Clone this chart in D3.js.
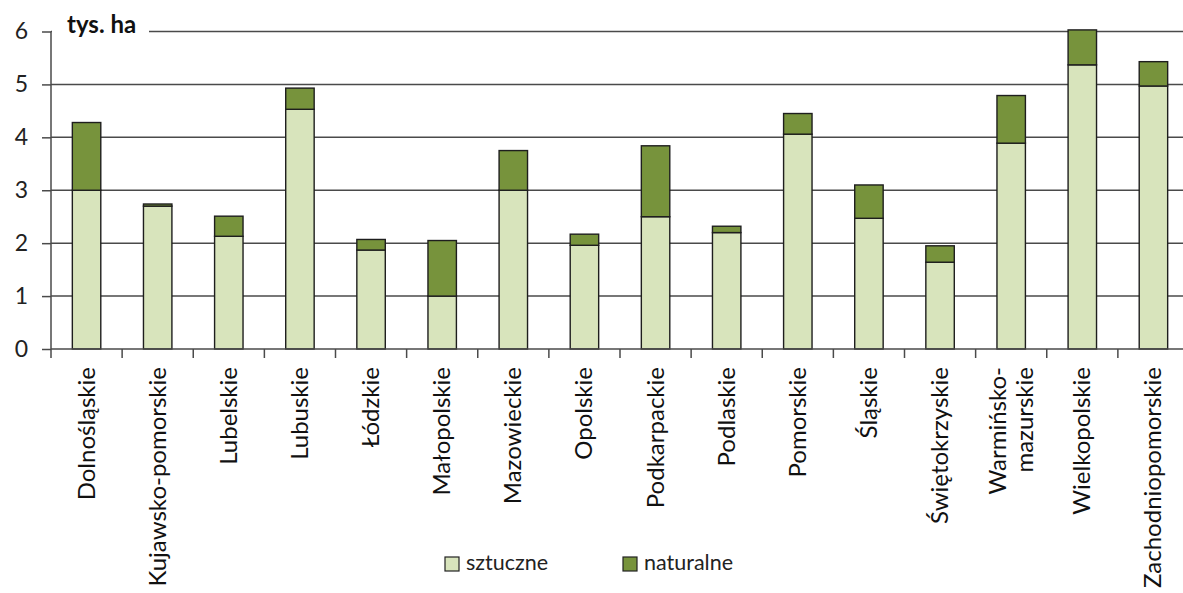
<!DOCTYPE html>
<html><head><meta charset="utf-8">
<script src="https://cdn.jsdelivr.net/npm/d3@7"></script>
<style>body{margin:0;background:#fff}svg{display:block}</style>
</head><body>
<svg id="c" width="1183" height="593"></svg>
<script>
const categories = ["Dolnośląskie","Kujawsko-pomorskie","Lubelskie","Lubuskie","Łódzkie","Małopolskie","Mazowieckie","Opolskie","Podkarpackie","Podlaskie","Pomorskie","Śląskie","Świętokrzyskie","Warmińsko-mazurskie","Wielkopolskie","Zachodniopomorskie"];
const sztuczne = [3.00,2.70,2.13,4.53,1.87,1.00,3.00,1.96,2.50,2.20,4.06,2.47,1.64,3.89,5.37,4.97];
const naturalne = [1.28,0.04,0.38,0.40,0.20,1.05,0.75,0.21,1.34,0.12,0.39,0.63,0.31,0.90,0.66,0.46];
const yTicks = [0,1,2,3,4,5,6];
const seriesNames = ["sztuczne","naturalne"];
const colors = ["#d8e4bc","#77933c"];
const unitLabel = "tys. ha";

const svg = d3.select("#c");
const font = "Lato, 'Open Sans', sans-serif";
const x = d3.scaleBand().domain(categories).range([51,1189]).paddingInner(0.6).paddingOuter(0.3);
const xb = d3.scaleBand().domain(categories).range([51,1189]);
const y = d3.scaleLinear().domain([0,6]).range([349,31.5]);

// gridlines
svg.append("g").selectAll("line").data(yTicks.filter(d=>d>0)).join("line")
  .attr("x1",51).attr("x2",1183).attr("y1",d=>y(d)).attr("y2",d=>y(d))
  .attr("stroke","#4a4a4a").attr("stroke-width",1.5);

// title with white background over gridline
svg.append("rect").attr("x",52).attr("y",y(6)-14).attr("width",97).attr("height",24).attr("fill","#fff");
svg.append("text").attr("x",67).attr("y",y(6)+1).attr("font-family",font).attr("font-weight","bold")
  .attr("font-size",24).attr("fill","#111").text(unitLabel);

// stacked bars
const data = categories.map((c,i)=>({c, s:sztuczne[i], n:naturalne[i]}));
const stack = d3.stack().keys(["s","n"])(data);
svg.append("g").selectAll("g").data(stack).join("g").attr("fill",(d,i)=>colors[i])
  .selectAll("rect").data(d=>d).join("rect")
  .attr("x",d=>x(d.data.c)).attr("width",x.bandwidth())
  .attr("y",d=>y(d[1])).attr("height",d=>y(d[0])-y(d[1]))
  .attr("stroke","#1e1e1e").attr("stroke-width",1.4);

// y axis
const ya = d3.axisLeft(y).tickValues(yTicks).tickSize(9).tickPadding(14).tickFormat(d3.format("d"));
const gy = svg.append("g").attr("transform","translate(51,0)").call(ya);
gy.select(".domain").attr("stroke","#4a4a4a").attr("stroke-width",1.5).attr("d","M0,"+y(0)+"V"+y(6));
gy.selectAll(".tick line").attr("stroke","#4a4a4a").attr("stroke-width",1.5);
gy.selectAll(".tick text").attr("font-family",font).attr("font-size",23).attr("fill","#222");

// x axis
const gx = svg.append("g").attr("transform","translate(0,"+y(0)+")");
gx.append("line").attr("x1",51).attr("x2",1183).attr("stroke","#4a4a4a").attr("stroke-width",1.5);
gx.selectAll("line.t").data(categories.concat(["end"])).join("line").attr("class","t")
  .attr("x1",(d,i)=>51+i*xb.bandwidth()).attr("x2",(d,i)=>51+i*xb.bandwidth())
  .attr("y1",0).attr("y2",9).attr("stroke","#4a4a4a").attr("stroke-width",1.5);

// category labels
categories.forEach((c,i)=>{
  const cx = xb(c)+xb.bandwidth()/2;
  const lines = c==="Warmińsko-mazurskie" ? ["Warmińsko-","mazurskie"] : [c];
  const t = svg.append("text").attr("font-family",font).attr("font-size",24).attr("fill","#111")
    .attr("text-anchor","end")
    .attr("transform","translate("+cx+","+(y(0)+18)+") rotate(-90)");
  const lh = 27;
  lines.forEach((l,j)=>{
    t.append("tspan").attr("x",0).attr("y",(j-(lines.length-1)/2)*lh+8).text(l);
  });
});

// legend
const lg = svg.append("g").attr("font-family",font).attr("font-size",21.5).attr("fill","#222");
const lx = [445,623];
seriesNames.forEach((n,i)=>{
  lg.append("rect").attr("x",lx[i]).attr("y",557).attr("width",14).attr("height",14)
    .attr("fill",colors[i]).attr("stroke","#222").attr("stroke-width",1.2);
  lg.append("text").attr("x",lx[i]+21).attr("y",570).text(n);
});
</script>
</body></html>
